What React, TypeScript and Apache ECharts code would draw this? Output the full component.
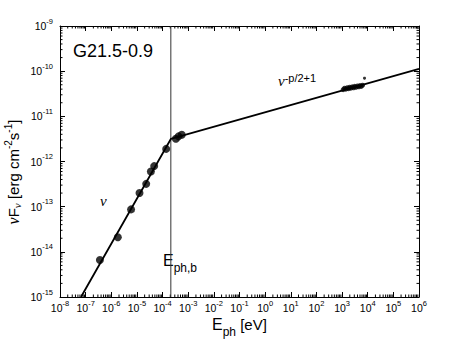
import React, { useEffect, useRef } from "react";
import * as echarts from "echarts";

// ---- data ----
const xMin = 1e-8;
const xMax = 1e6;
const yMin = 1e-15;
const yMax = 1e-9;
const xExpMin = -8;
const xExpMax = 6;

// radio / low-energy measurements (E_ph [eV], nuF_nu [erg cm^-2 s^-1])
const radioE = [3.6e-7, 1.8e-6, 5.9e-6, 1.26e-5, 2.3e-5, 3.5e-5, 4.7e-5, 1.38e-4, 3.3e-4, 4.2e-4, 5.6e-4];
const radioF = [6.6e-15, 2.1e-14, 8.7e-14, 2.0e-13, 3.2e-13, 6.0e-13, 7.9e-13, 1.9e-12, 3.2e-12, 3.6e-12, 3.9e-12];

// X-ray cluster
const xrayE = [1.1e3, 1.25e3, 1.4e3, 1.6e3, 1.8e3, 2.0e3, 2.2e3, 2.5e3, 2.8e3, 3.1e3, 3.5e3, 4.0e3, 4.5e3, 5.0e3, 5.6e3, 6.3e3];
const xrayF = [3.9e-11, 4.2e-11, 4.0e-11, 4.3e-11, 4.1e-11, 4.4e-11, 4.2e-11, 4.5e-11, 4.3e-11, 4.6e-11, 4.4e-11, 4.7e-11, 4.5e-11, 4.8e-11, 4.6e-11, 4.9e-11];
const outlierE = [7.5e3];
const outlierF = [7.0e-11];

// broken power-law model
const fitE = [6.6e-8, 2.1e-4, 1e6];
const fitF = [1e-15, 3.16e-12, 1.12e-10];
const breakE = 2.1e-4;

const xDecades = [-8, -7, -6, -5, -4, -3, -2, -1, 0, 1, 2, 3, 4, 5];
const yDecades = [-15, -14, -13, -12, -11, -10];
const minorSteps = [2, 3, 4, 5, 6, 7, 8, 9];

const SANS = "'Liberation Sans', Arial, Helvetica, sans-serif";
const SERIF = "'Liberation Serif', 'DejaVu Serif', serif";

function expLabelFromValue(v: number) {
  const e = Math.round(Math.log10(v));
  return "{b|10}{s|" + e + "}";
}
function expLabelFromExp(e: number) {
  return "{b|10}{s|" + Math.round(e) + "}";
}

export default function App() {
  const ref = useRef<HTMLDivElement>(null);

  useEffect(() => {
    document.body.style.margin = "0";
    if (!ref.current) return;
    const chart = echarts.init(ref.current, undefined, { renderer: "svg" });

    const minorData: number[][] = [];
    xDecades.forEach((d) =>
      minorSteps.forEach((k) => {
        const v = k * Math.pow(10, d);
        minorData.push([v, yMin, 0]);
        minorData.push([v, yMax, 1]);
      })
    );
    yDecades.forEach((d) =>
      minorSteps.forEach((k) => {
        const v = k * Math.pow(10, d);
        minorData.push([xMin, v, 2]);
        minorData.push([xMax, v, 3]);
      })
    );

    const tickRich = {
      b: { fontSize: 10.5, lineHeight: 12, fontFamily: SANS, color: "#000" },
      s: { fontSize: 7.5, lineHeight: 8, padding: [0, 0, 10, 0], fontFamily: SANS, color: "#000" },
    };

    const lineStyleAxis = { color: "#000", width: 1 };
    const tickStyle = { show: true, inside: true, length: 5, lineStyle: { color: "#000", width: 1 } };

    chart.setOption({
      animation: false,
      backgroundColor: "#fff",
      grid: { left: 60, right: 44, top: 26, bottom: 43, containLabel: false },
      xAxis: [
        {
          // data axis (log scale)
          type: "log",
          logBase: 10,
          min: xMin,
          max: xMax,
          show: false,
        },
        {
          // bottom decade ticks and labels
          type: "value",
          position: "bottom",
          min: xExpMin,
          max: xExpMax,
          interval: 1,
          axisLine: { show: true, onZero: false, lineStyle: lineStyleAxis },
          axisTick: tickStyle,
          splitLine: { show: false },
          axisLabel: {
            show: true,
            margin: 5,
            formatter: expLabelFromExp,
            rich: tickRich,
            showMinLabel: true,
            showMaxLabel: true,
          },
        },
        {
          type: "value",
          position: "top",
          min: xExpMin,
          max: xExpMax,
          interval: 1,
          axisLine: { show: true, onZero: false, lineStyle: lineStyleAxis },
          axisTick: tickStyle,
          splitLine: { show: false },
          axisLabel: { show: false },
        },
      ],
      yAxis: [
        {
          type: "log",
          logBase: 10,
          position: "left",
          min: yMin,
          max: yMax,
          splitNumber: 6,
          axisLine: { show: true, onZero: false, lineStyle: lineStyleAxis },
          axisTick: tickStyle,
          splitLine: { show: false },
          axisLabel: {
            show: true,
            margin: 7,
            formatter: expLabelFromValue,
            rich: tickRich,
            showMinLabel: true,
            showMaxLabel: true,
          },
        },
        {
          type: "log",
          logBase: 10,
          position: "right",
          min: yMin,
          max: yMax,
          splitNumber: 6,
          axisLine: { show: true, onZero: false, lineStyle: lineStyleAxis },
          axisTick: tickStyle,
          splitLine: { show: false },
          axisLabel: { show: false },
        },
      ],
      series: [
        {
          type: "custom",
          coordinateSystem: "cartesian2d",
          xAxisIndex: 0,
          yAxisIndex: 0,
          clip: false,
          silent: true,
          encode: { x: 0, y: 1 },
          data: minorData,
          renderItem: (params: any, api: any) => {
            const p = api.coord([api.value(0), api.value(1)]);
            const dir = api.value(2);
            const L = 2.5;
            let x2 = p[0];
            let y2 = p[1];
            if (dir === 0) y2 -= L;
            else if (dir === 1) y2 += L;
            else if (dir === 2) x2 += L;
            else x2 -= L;
            return {
              type: "line",
              shape: { x1: p[0], y1: p[1], x2, y2 },
              style: { stroke: "#000", lineWidth: 1 },
            };
          },
        },
        {
          // break energy marker
          type: "line",
          xAxisIndex: 0,
          yAxisIndex: 0,
          data: [
            [breakE, yMin],
            [breakE, yMax],
          ],
          symbol: "none",
          showSymbol: false,
          silent: true,
          lineStyle: { color: "#333", width: 1 },
          z: 2,
        },
        {
          type: "line",
          xAxisIndex: 0,
          yAxisIndex: 0,
          data: fitE.map((e, i) => [e, fitF[i]]),
          showSymbol: false,
          symbol: "none",
          silent: true,
          lineStyle: { color: "#000", width: 1.8 },
          z: 3,
        },
        {
          type: "scatter",
          xAxisIndex: 0,
          yAxisIndex: 0,
          data: radioE.map((e, i) => [e, radioF[i]]),
          symbol: "circle",
          symbolSize: 8,
          itemStyle: { color: "#000" },
          z: 4,
        },
        {
          type: "scatter",
          xAxisIndex: 0,
          yAxisIndex: 0,
          data: xrayE.map((e, i) => [e, xrayF[i]]),
          symbol: "circle",
          symbolSize: 5,
          itemStyle: { color: "#000" },
          z: 4,
        },
        {
          type: "scatter",
          xAxisIndex: 0,
          yAxisIndex: 0,
          data: outlierE.map((e, i) => [e, outlierF[i]]),
          symbol: "circle",
          symbolSize: 3,
          itemStyle: { color: "#000" },
          z: 4,
        },
      ],
      graphic: [
        {
          type: "text",
          left: 73,
          top: 42,
          style: { text: "G21.5-0.9", font: "18px " + SANS, fill: "#000" },
        },
        {
          type: "text",
          x: 100,
          y: 201,
          style: {
            text: "ν",
            fontFamily: SERIF,
            fontStyle: "italic",
            fontSize: 15,
            fill: "#000",
            align: "left",
            verticalAlign: "middle",
          },
        },
        {
          type: "text",
          x: 278,
          y: 81,
          style: {
            text: "{n|ν}{s|-p/2+1}",
            align: "left",
            verticalAlign: "middle",
            rich: {
              n: { fontFamily: SERIF, fontStyle: "italic", fontSize: 15, lineHeight: 15, fill: "#000" },
              s: { fontFamily: SANS, fontSize: 11, lineHeight: 11, padding: [0, 0, 7, 0], fill: "#000" },
            },
          },
        },
        {
          type: "text",
          x: 163,
          y: 260,
          style: {
            text: "{E|E}{s|ph,b}",
            align: "left",
            verticalAlign: "middle",
            rich: {
              E: { fontFamily: SANS, fontSize: 16, lineHeight: 16, fill: "#000" },
              s: { fontFamily: SANS, fontSize: 12, lineHeight: 12, padding: [15, 0, 0, 0], fill: "#000" },
            },
          },
        },
        {
          type: "text",
          x: 212,
          y: 324,
          style: {
            text: "{E|E}{s|ph}{t| [eV]}",
            align: "left",
            verticalAlign: "middle",
            rich: {
              E: { fontFamily: SANS, fontSize: 16, lineHeight: 16, fill: "#000" },
              s: { fontFamily: SANS, fontSize: 12, lineHeight: 12, padding: [15, 0, 0, 0], fill: "#000" },
              t: { fontFamily: SANS, fontSize: 15, lineHeight: 15, fill: "#000" },
            },
          },
        },
        {
          type: "text",
          x: 13,
          y: 172,
          rotation: Math.PI / 2,
          style: {
            text: "{n|ν}{F|F}{ns|ν}{t| [erg cm}{p|-2}{t|s}{p|-1}{t|]}",
            align: "center",
            verticalAlign: "middle",
            rich: {
              n: { fontFamily: SERIF, fontStyle: "italic", fontSize: 16, lineHeight: 16, fill: "#000" },
              F: { fontFamily: SANS, fontSize: 15, lineHeight: 15, fill: "#000" },
              ns: { fontFamily: SERIF, fontStyle: "italic", fontSize: 11, lineHeight: 11, padding: [8, 0, 0, 0], fill: "#000" },
              t: { fontFamily: SANS, fontSize: 15, lineHeight: 15, fill: "#000" },
              p: { fontFamily: SANS, fontSize: 10, lineHeight: 10, padding: [0, 0, 10, 0], fill: "#000" },
            },
          },
        },
      ],
    });

    return () => chart.dispose();
  }, []);

  return <div ref={ref} style={{ width: 463, height: 340 }} />;
}
